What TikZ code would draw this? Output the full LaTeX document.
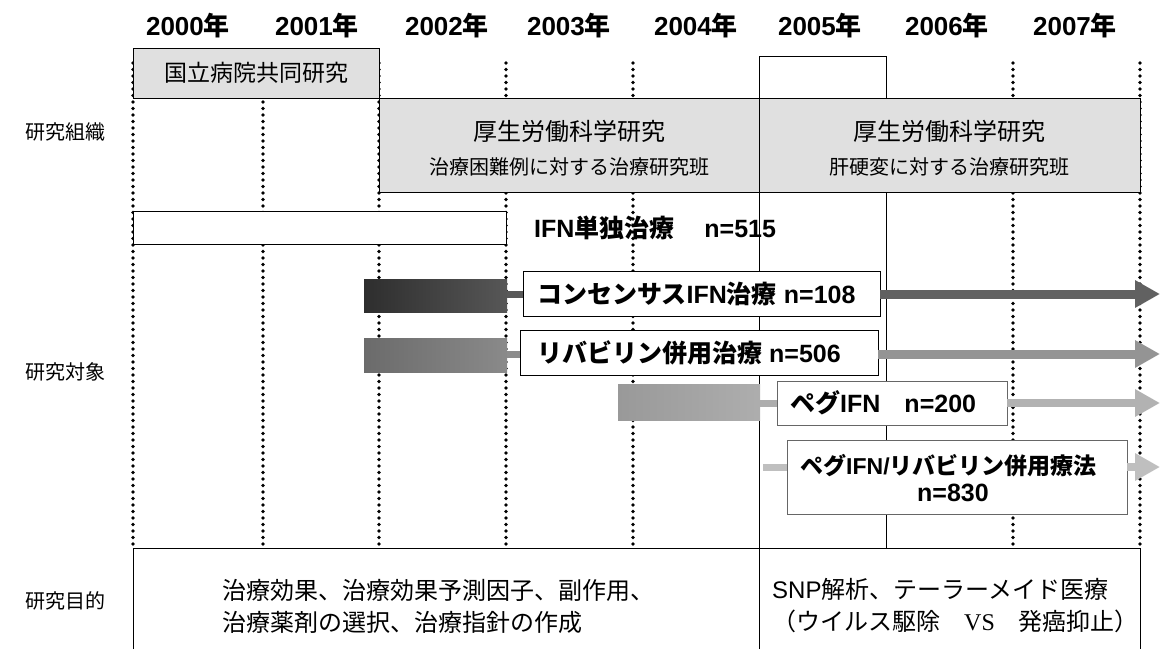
\documentclass[tikz,border=0pt]{standalone}
\usepackage{fontspec}
\setmainfont{Liberation Sans}
\newfontfamily\jp{Noto Sans CJK JP}
\newfontfamily\vsfont{Liberation Serif}
\usetikzlibrary{arrows.meta}
\newcommand\fs[2]{\fontsize{#1}{#2}\selectfont}
\begin{document}
\begin{tikzpicture}[x=1pt,y=-1pt,
  gridline/.style={line width=3.6pt, dash pattern=on 0pt off 6.5pt, line cap=round},
  solidline/.style={line width=0.9pt},
  orgbox/.style={draw, line width=0.9pt, fill=black!12, inner sep=0pt},
  plainbox/.style={draw, line width=0.9pt, fill=white, inner sep=0pt},
  pegbox/.style={draw=black!60, line width=0.8pt, fill=white, inner sep=0pt},
  bar/.style={inner sep=0pt, draw=none},
  yearlbl/.style={font=\bfseries\fs{26}{30}},
  rowlbl/.style={font=\jp\fs{20}{24}},
  boxlbl/.style={font=\bfseries\fs{25}{30}, anchor=west, inner sep=0pt},
  flow/.style={line width=#1},
  bigtip/.style={-{Triangle[length=25pt,width=26pt]}}
]
\useasboundingbox (0,0) rectangle (1163,649);

% year labels
\node[yearlbl] (y0) at (188,26) {2000{\jp 年}};
\node[yearlbl] (y1) at (317,26) {2001{\jp 年}};
\node[yearlbl] (y2) at (447,26) {2002{\jp 年}};
\node[yearlbl] (y3) at (569,26) {2003{\jp 年}};
\node[yearlbl] (y4) at (696,26) {2004{\jp 年}};
\node[yearlbl] (y5) at (820,26) {2005{\jp 年}};
\node[yearlbl] (y6) at (947,26) {2006{\jp 年}};
\node[yearlbl] (y7) at (1075,26) {2007{\jp 年}};

% row labels
\node[rowlbl] (r1) at (65,132) {研究組織};
\node[rowlbl] (r2) at (65,372) {研究対象};
\node[rowlbl] (r3) at (65,601) {研究目的};

% dotted grid
\foreach \gx in {133,263,379,506,633,1013,1140}
  \draw[gridline] (\gx,63) -- (\gx,548);
% solid 2005 frame
\draw[solidline] (759,649) -- (759,56) -- (886,56) -- (886,548);

% organisation boxes
\node[orgbox, minimum width=246pt, minimum height=50pt] (kokuritsu) at (256,73) {};
\node[font=\jp\fs{23}{26}] at (kokuritsu.center) {国立病院共同研究};
\node[orgbox, minimum width=380pt, minimum height=94pt] (kousei1) at (569,145) {};
\node[orgbox, minimum width=381pt, minimum height=94pt] (kousei2) at (949.5,145) {};
\node[font=\jp\fs{24}{28}] at (569,131) {厚生労働科学研究};
\node[font=\jp\fs{20}{24}] at (569,167) {治療困難例に対する治療研究班};
\node[font=\jp\fs{24}{28}] at (949.5,131) {厚生労働科学研究};
\node[font=\jp\fs{20}{24}] at (949.5,167) {肝硬変に対する治療研究班};

% IFN alone
\node[plainbox, minimum width=373pt, minimum height=33pt] (ifn) at (319.5,227.5) {};
\node[boxlbl] (ifnlbl) at (534,228) {IFN{\jp 単独治療}\hspace{30pt}n=515};

% consensus IFN
\node[bar, minimum width=143pt, minimum height=33pt,
      left color=black!82, right color=black!66] (bar1) at (435.5,295.5) {};
\node[plainbox, minimum width=357pt, minimum height=45pt] (cons) at (701.5,293.5) {};
\node[boxlbl] at (537,294) {{\jp コンセンサス}IFN{\jp 治療} n=108};
\coordinate (tip1) at (1160,294);
\draw[flow=7pt, black!65] (bar1.east |- tip1) -- (cons.west |- tip1);
\draw[flow=9pt, black!62, bigtip] (cons.east |- tip1) -- (tip1);

% ribavirin
\node[bar, minimum width=143pt, minimum height=34pt,
      left color=black!58, right color=black!46] (bar2) at (435.5,355) {};
\node[plainbox, minimum width=358pt, minimum height=45pt] (riba) at (699,352.5) {};
\node[boxlbl] at (537,353) {{\jp リバビリン併用治療} n=506};
\coordinate (tip2) at (1160,354);
\draw[flow=7pt, black!45] (bar2.east |- tip2) -- (riba.west |- tip2);
\draw[flow=9pt, black!42, bigtip] (riba.east |- tip2) -- (tip2);

% peg IFN
\node[bar, minimum width=142pt, minimum height=36pt,
      left color=black!40, right color=black!32] (bar3) at (689,402) {};
\node[pegbox, minimum width=230pt, minimum height=44pt] (peg) at (892,403) {};
\node[boxlbl] at (790,403) {{\jp ペグ}IFN\hspace{24pt}n=200};
\coordinate (tip3) at (1160,403);
\draw[flow=7pt, black!32] (bar3.east |- tip3) -- (peg.west |- tip3);
\draw[flow=8pt, black!30, bigtip] (peg.east |- tip3) -- (tip3);

% peg IFN / ribavirin
\coordinate (start4) at (763,467);
\node[pegbox, minimum width=340pt, minimum height=74pt] (pegriba) at (957,477) {};
\node[font=\bfseries\fs{23}{26}, anchor=west, inner sep=0pt] at (800,466) {{\jp ペグ}IFN/{\jp リバビリン併用療法}};
\node[font=\bfseries\fs{25}{30}, inner sep=0pt] at (953,493) {n=830};
\coordinate (tip4) at (1160,467);
\draw[flow=7pt, black!25] (start4) -- (pegriba.west |- start4);
\draw[flow=8pt, black!25, bigtip] (pegriba.east |- tip4) -- (tip4);

% purpose box
\draw[solidline, fill=white] (133,649) -- (133,548) -- (1140,548) -- (1140,649);
\draw[solidline] (759,548) -- (759,649);
\node[font=\jp\fs{24}{32}, anchor=west, align=left, inner sep=0pt] (aim1) at (222,606)
  {治療効果、治療効果予測因子、副作用、\\治療薬剤の選択、治療指針の作成};
\node[font=\fs{24}{32}, anchor=west, align=left, inner sep=0pt] (aim2) at (772,606)
  {SNP{\jp 解析、テーラーメイド医療}\\{\jp （ウイルス駆除　}{\vsfont VS}{\jp 　発癌抑止）}};
\end{tikzpicture}
\end{document}
